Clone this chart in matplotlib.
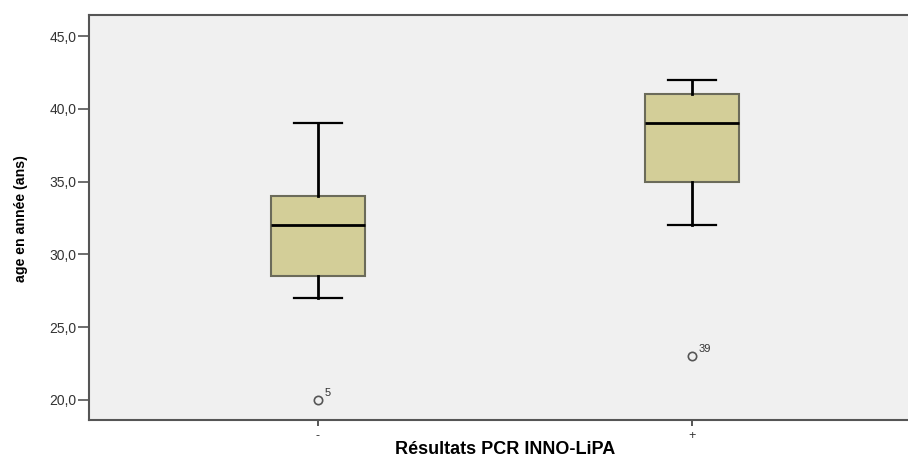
import matplotlib.pyplot as plt
from matplotlib.ticker import FuncFormatter

plt.rcParams['font.family'] = ['Liberation Sans', 'DejaVu Sans']

# values
groups = ['-', '+']
whislo = [27.0, 32.0]
q1 = [28.5, 35.0]
med = [32.0, 39.0]
q3 = [34.0, 41.0]
whishi = [39.0, 42.0]
outliers = [[20.0], [23.0]]
outlier_ids = [['5'], ['39']]

stats = []
for i in range(len(groups)):
    stats.append({'label': groups[i], 'whislo': whislo[i], 'q1': q1[i], 'med': med[i],
                  'q3': q3[i], 'whishi': whishi[i], 'fliers': outliers[i]})

fig = plt.figure(figsize=(9.08, 4.59), dpi=100)
ax = fig.add_axes([89 / 908, 39 / 459, 1 - 89 / 908, 405 / 459])
ax.set_facecolor('#f0f0f0')

positions = list(range(len(groups)))
ax.bxp(stats, positions=positions, widths=0.25, patch_artist=True,
       boxprops=dict(facecolor='#d3ce98', edgecolor='#6b6b5a', linewidth=1.5),
       medianprops=dict(color='black', linewidth=2),
       whiskerprops=dict(color='black', linewidth=2),
       capprops=dict(color='black', linewidth=1.6),
       capwidths=0.13,
       flierprops=dict(marker='o', markerfacecolor='none', markeredgecolor='#555555',
                       markersize=6, markeredgewidth=1.2))

for i in range(len(groups)):
    for v, lab in zip(outliers[i], outlier_ids[i]):
        ax.annotate(lab, (positions[i], v), xytext=(5, 3), textcoords='offset points',
                    fontsize=8, color='#333333')

ax.set_xlim(-0.612, 1.578)
ax.set_ylim(18.62, 46.45)
ax.set_yticks([20, 25, 30, 35, 40, 45])
ax.yaxis.set_major_formatter(FuncFormatter(lambda v, p: ('%.1f' % v).replace('.', ',')))
ax.set_xticks(positions)
ax.set_xticklabels(groups)

for s in ['left', 'bottom', 'top']:
    ax.spines[s].set_color('#555555')
    ax.spines[s].set_linewidth(1.5)
ax.spines['right'].set_visible(False)
ax.tick_params(axis='y', length=8, width=1.2, color='#555555', labelsize=10,
               labelcolor='#333333', pad=1)
ax.tick_params(axis='x', length=4, width=1.4, color='#555555', labelsize=9,
               labelcolor='#333333', pad=3)

fig.text(21 / 908, 1 - 218.5 / 459, 'age en année (ans)', rotation=90,
         ha='center', va='center', fontsize=10.2, fontweight='bold')
fig.text(505 / 908, 1 / 459, 'Résultats PCR INNO-LiPA',
         ha='center', va='bottom', fontsize=13, fontweight='bold')

fig.savefig('out.png', dpi=100)
